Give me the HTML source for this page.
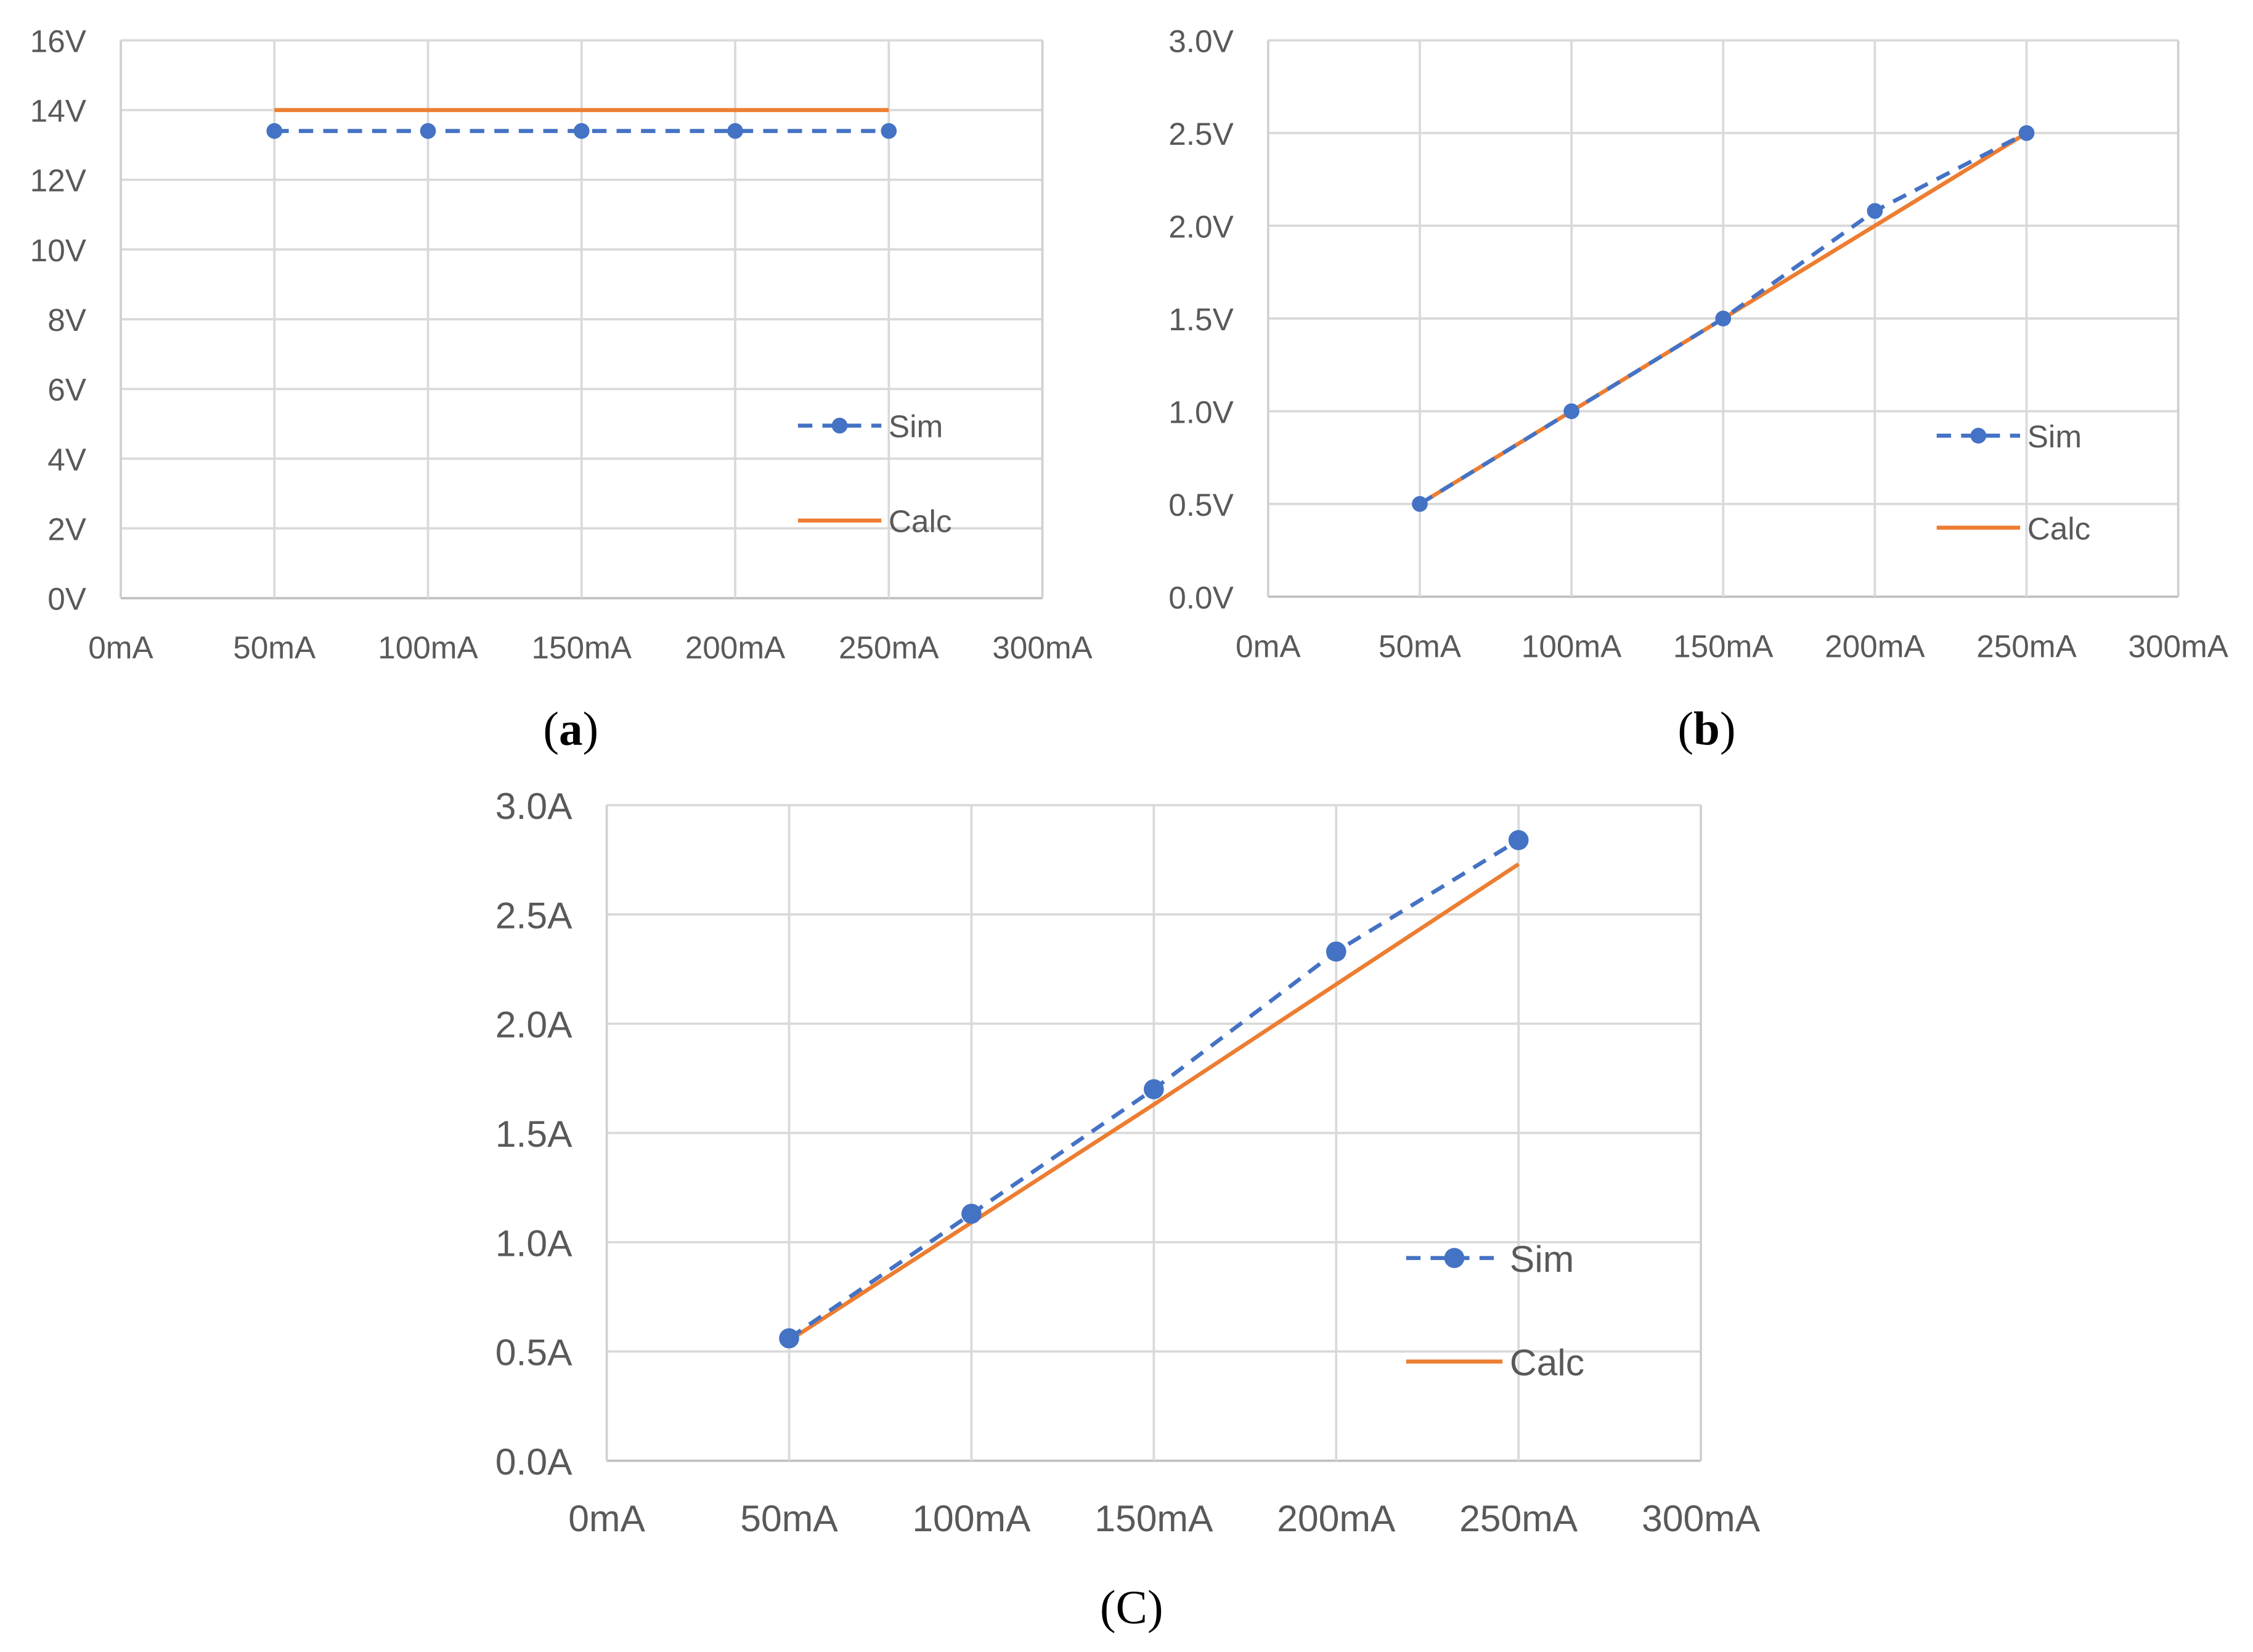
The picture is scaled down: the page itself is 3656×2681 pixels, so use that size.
<!DOCTYPE html>
<html><head><meta charset="utf-8"><style>
html,body{margin:0;padding:0;background:#fff;}
svg{display:block;}
text{font-family:"Liberation Sans Narrow","Liberation Sans",sans-serif;fill:#595959;}
.cap{font-family:"Liberation Serif",serif;fill:#000;font-size:33px;}
</style></head><body>
<svg id="fig" width="3656" height="2681" viewBox="0 0 1567 1149" xmlns="http://www.w3.org/2000/svg">
<text class="cap" x="397" y="518" text-anchor="middle">(<tspan font-weight="bold">a</tspan>)</text>
<text class="cap" x="1187" y="518" text-anchor="middle">(<tspan font-weight="bold">b</tspan>)</text>
<text class="cap" x="787" y="1129" text-anchor="middle">(C)</text>
</svg>
<script>
const xCats = [0, 50, 100, 150, 200, 250, 300];
const xLabels = ["0mA","50mA","100mA","150mA","200mA","250mA","300mA"];
const seriesX = [50, 100, 150, 200, 250];
const aTicks = [0,2,4,6,8,10,12,14,16];
const aTickLabels = ["0V","2V","4V","6V","8V","10V","12V","14V","16V"];
const aSim = [13.4, 13.4, 13.4, 13.4, 13.4];
const aCalc = [14, 14, 14, 14, 14];
const bTicks = [0,0.5,1,1.5,2,2.5,3];
const bTickLabels = ["0.0V","0.5V","1.0V","1.5V","2.0V","2.5V","3.0V"];
const bSim = [0.5, 1.0, 1.5, 2.08, 2.5];
const bCalc = [0.5, 1.0, 1.5, 2.0, 2.5];
const cTicks = [0,0.5,1,1.5,2,2.5,3];
const cTickLabels = ["0.0A","0.5A","1.0A","1.5A","2.0A","2.5A","3.0A"];
const cSim = [0.56, 1.13, 1.70, 2.33, 2.84];
const cCalc = [0.55, 1.09, 1.63, 2.18, 2.73];

const NS = "http://www.w3.org/2000/svg";
const svg = document.getElementById('fig');
function mk(tag, attrs, parent){const e=document.createElementNS(NS,tag);for(const k in attrs)e.setAttribute(k,attrs[k]);(parent||svg).appendChild(e);return e;}

function chart(id, box, ticks, tickLabels, sim, calc, fs, r, leg, xoff){
  const g = mk('g',{});
  
  
  const xmax = xCats[xCats.length-1], ymax = ticks[ticks.length-1];
  const X = v => box.l + (box.r-box.l)*v/xmax;
  const Y = v => box.b - (box.b-box.t)*v/ymax;
  ticks.forEach((t,i)=>{
    const ln = mk('line',{x1:box.l,x2:box.r,y1:Y(t),y2:Y(t),stroke:i==0?'#bfbfbf':'#d9d9d9','stroke-width':1.6},g);
    
    
    const tx = mk('text',{x:box.l-24,y:Y(t)+fs*0.37,'text-anchor':'end','font-size':fs},g);
    tx.textContent = tickLabels[i];
    
    
  });
  xCats.forEach((c,i)=>{
    const ln = mk('line',{x1:X(c),x2:X(c),y1:box.t,y2:box.b,stroke:(i==0||i==xCats.length-1)?'#d0d0d0':'#d9d9d9','stroke-width':1.6},g);
    
    
    const tx = mk('text',{x:X(c),y:box.b+xoff,'text-anchor':'middle','font-size':fs},g);
    tx.textContent = xLabels[i];
    
    
  });
  const cp = mk('polyline',{points:seriesX.map((x,i)=>X(x)+','+Y(calc[i])).join(' '),fill:'none',stroke:'#ed7d31','stroke-width':2.8},g);
  
  
  const sp = mk('polyline',{points:seriesX.map((x,i)=>X(x)+','+Y(sim[i])).join(' '),fill:'none',stroke:'#4472c4','stroke-width':2.8,'stroke-dasharray':'10,7'},g);
  
  
  seriesX.forEach((x,i)=>{
    const c = mk('circle',{cx:X(x),cy:Y(sim[i]),r:r,fill:'#4472c4'},g);
    
    
  });
  const ls = mk('line',{x1:leg.x1,x2:leg.x2,y1:leg.ys,y2:leg.ys,stroke:'#4472c4','stroke-width':2.8,'stroke-dasharray':'10,7'},g);
  
  
  const lc0 = mk('circle',{cx:(leg.x1+leg.x2)/2,cy:leg.ys,r:r,fill:'#4472c4'},g);
  
  
  const st = mk('text',{x:leg.x2+5,y:leg.ys+fs*0.37,'font-size':fs},g);
  st.textContent='Sim';
  
  
  const lc = mk('line',{x1:leg.x1,x2:leg.x2,y1:leg.yc,y2:leg.yc,stroke:'#ed7d31','stroke-width':2.8},g);
  
  
  const ct = mk('text',{x:leg.x2+5,y:leg.yc+fs*0.37,'font-size':fs},g);
  ct.textContent='Calc';
  
  
}
chart('a',{l:84,r:725,t:28,b:416},aTicks,aTickLabels,aSim,aCalc,22,5.5,{x1:555,x2:613,ys:296,yc:362},42);
chart('b',{l:882,r:1515,t:28,b:415},bTicks,bTickLabels,bSim,bCalc,22,5.5,{x1:1347,x2:1405,ys:303,yc:367},42);
chart('c',{l:422,r:1183,t:560,b:1016},cTicks,cTickLabels,cSim,cCalc,26,7,{x1:978,x2:1045,ys:875,yc:947},49);
</script>
</body></html>
